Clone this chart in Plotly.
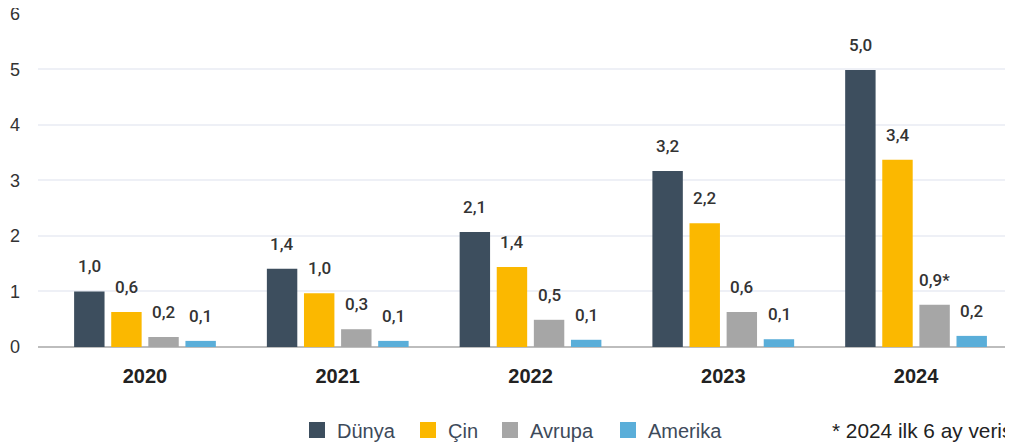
import plotly.graph_objects as go

years = ["2020", "2021", "2022", "2023", "2024"]
series_names = ["Dünya", "Çin", "Avrupa", "Amerika"]
dunya = [1.0, 1.41, 2.07, 3.17, 4.99]
cin = [0.63, 0.97, 1.44, 2.23, 3.37]
avrupa = [0.18, 0.32, 0.49, 0.63, 0.76]
amerika = [0.11, 0.11, 0.13, 0.14, 0.2]
dunya_lbl = ["1,0", "1,4", "2,1", "3,2", "5,0"]
cin_lbl = ["0,6", "1,0", "1,4", "2,2", "3,4"]
avrupa_lbl = ["0,2", "0,3", "0,5", "0,6", "0,9*"]
amerika_lbl = ["0,1", "0,1", "0,1", "0,1", "0,2"]
y_ticks = [0, 1, 2, 3, 4, 5, 6]
footnote = "* 2024 ilk 6 ay verisi"

colors = ["#3d4e5e", "#fbb800", "#a6a6a6", "#5aaed9"]
legend_widths = [66, 37, 73, 80]
values = [dunya, cin, avrupa, amerika]
labels = [dunya_lbl, cin_lbl, avrupa_lbl, amerika_lbl]

fig = go.Figure()
for name, vals, col in zip(series_names, values, colors):
    fig.add_trace(go.Bar(x=years, y=vals, name=name, showlegend=False,
                         marker=dict(color=col, line=dict(width=0))))
# legend proxies (larger square swatches)
for name, col, lw in zip(series_names, colors, legend_widths):
    fig.add_trace(go.Scatter(x=[None], y=[None], mode="markers", name=name, legendwidth=lw,
                             marker=dict(symbol="square", size=18, color=col)))

slot_px = 37.3
annotations = []
for i, (vals, lbls) in enumerate(zip(values, labels)):
    for j, (v, t) in enumerate(zip(vals, lbls)):
        annotations.append(dict(
            x=j, y=v, xref="x", yref="y", text=t, showarrow=False,
            xshift=(i - 1.5) * slot_px, yshift=25, yanchor="middle",
            font=dict(family="Roboto, sans-serif", size=17, color="#333333", weight=500),
        ))
annotations.append(dict(
    x=(830 - 38) / 975, y=(347 - 430) / 333, xref="paper", yref="paper", text=footnote,
    showarrow=False, xanchor="left", yanchor="middle",
    font=dict(family="Liberation Sans, Arial, sans-serif", size=20.8, color="#222222"),
))

# the page body adds an 8px offset, so the figure is 8px smaller on each axis
fig.update_layout(
    width=1005, height=435,
    margin=dict(l=30, r=0, t=5, b=96, autoexpand=False),
    plot_bgcolor="white", paper_bgcolor="white",
    barmode="group", bargap=0.23, bargroupgap=0.18,
    showlegend=True,
    legend=dict(orientation="h", x=(297 - 38) / 975, y=(347 - 430) / 334,
                xanchor="left", yanchor="middle",
                font=dict(family="Liberation Sans, Arial, sans-serif", size=20, color="#3d4a5a"),
                itemclick=False),
    annotations=annotations,
    xaxis=dict(type="category", range=[-0.555, 4.503], showgrid=False, showline=False,
               ticks="", ticklabelstandoff=15,
               tickfont=dict(family="Liberation Sans, Arial, sans-serif", size=20, color="#222222", weight="bold")),
    yaxis=dict(range=[0, 6.015], tickvals=y_ticks, showgrid=True, gridcolor="#eef0f6", gridwidth=1.5,
               zeroline=True, zerolinecolor="#bdbdbd", zerolinewidth=2, showline=False,
               ticks="", ticklabelstandoff=17, ticklabeloverflow="allow",
               tickfont=dict(family="Liberation Sans, Arial, sans-serif", size=18, color="#333333")),
)

fig.write_html("out.html")
